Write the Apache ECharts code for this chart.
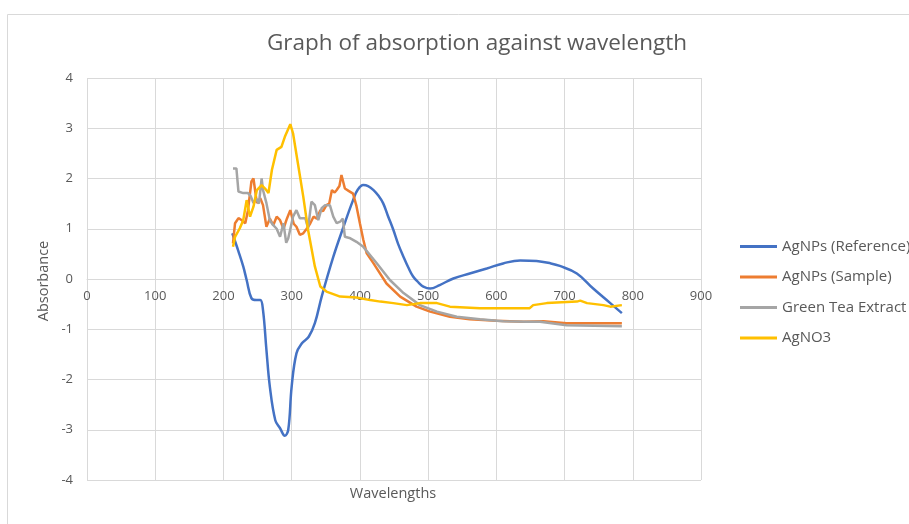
<!DOCTYPE html>
<html>
<head>
<meta charset="utf-8">
<script src="https://cdn.jsdelivr.net/npm/echarts@6/dist/echarts.min.js"></script>
<style>
  html, body { margin: 0; padding: 0; background: #fff; }
  #chart { width: 909px; height: 524px; }
</style>
</head>
<body>
<div id="chart"></div>
<script>
// wavelength / absorbance pairs
const refData = [
  [213, 0.91], [222, 0.55], [229, 0.25], [234, -0.02], [241, -0.38], [248, -0.42], [254, -0.42],
  [258, -0.62], [263, -1.41], [268, -2.14], [276, -2.81], [283, -2.97], [290, -3.12],
  [295, -3.0], [300, -2.14], [307, -1.48], [315, -1.28], [325, -1.15], [334, -0.88],
  [344, -0.35], [361, 0.44], [376, 1.04], [390, 1.57], [397, 1.78], [405, 1.87],
  [412, 1.85], [420, 1.77], [427, 1.66], [434, 1.51], [441, 1.26], [449, 0.98],
  [456, 0.7], [464, 0.44], [471, 0.23], [478, 0.05], [486, -0.07],
  [493, -0.15], [503, -0.19], [517, -0.12], [537, 0.01], [561, 0.11], [586, 0.21],
  [610, 0.31], [635, 0.37], [659, 0.36], [680, 0.31], [693, 0.26], [718, 0.11],
  [742, -0.19], [767, -0.48], [784, -0.68]
];
const sampleData = [
  [214, 0.71], [217, 1.11], [222, 1.21], [227, 1.17], [232, 1.11], [236, 1.37],
  [241, 1.94], [244, 2.0], [249, 1.51], [254, 1.61], [258, 1.47], [263, 1.04],
  [268, 1.2], [273, 1.07], [278, 1.24], [283, 1.17], [288, 1.0], [293, 1.2],
  [298, 1.37], [303, 1.1], [307, 1.04], [312, 0.88], [317, 0.91], [322, 1.0],
  [327, 1.1], [332, 1.24], [337, 1.2], [342, 1.37], [346, 1.35], [351, 1.47],
  [355, 1.5], [359, 1.77], [363, 1.72], [366, 1.77], [370, 1.85], [373, 2.07],
  [378, 1.8], [384, 1.75], [390, 1.7], [395, 1.45], [400, 1.11], [405, 0.78],
  [410, 0.51], [420, 0.31], [439, -0.09], [459, -0.35], [483, -0.55], [503, -0.65],
  [532, -0.75], [561, -0.8], [600, -0.83], [640, -0.85], [669, -0.84], [703, -0.88],
  [740, -0.88], [784, -0.88]
];
const teaData = [
  [214, 2.2], [219, 2.2], [222, 1.74], [229, 1.71], [236, 1.71], [240, 1.65],
  [244, 1.51], [248, 1.6], [252, 1.5], [256, 2.0], [258, 1.77], [263, 1.51],
  [268, 1.17], [273, 1.07], [278, 1.0], [283, 0.84], [288, 1.11], [292, 0.72],
  [295, 0.81], [302, 1.24], [307, 1.37], [312, 1.21], [320, 1.21], [324, 1.01],
  [329, 1.54], [334, 1.47], [339, 1.17], [344, 1.41], [349, 1.47], [356, 1.47],
  [361, 1.24], [366, 1.11], [371, 1.14], [375, 1.2], [378, 0.84], [386, 0.81],
  [395, 0.74], [405, 0.64], [425, 0.31], [444, -0.02], [464, -0.28], [488, -0.52],
  [513, -0.65], [542, -0.75], [576, -0.8], [610, -0.84], [645, -0.85], [664, -0.85],
  [703, -0.92], [784, -0.94]
];
const agno3Data = [
  [214, 0.64], [217, 0.84], [224, 1.01], [229, 1.17], [234, 1.57], [239, 1.24],
  [244, 1.44], [249, 1.77], [256, 1.87], [261, 1.8], [266, 1.71], [271, 2.17],
  [278, 2.57], [285, 2.63], [290, 2.83], [298, 3.08], [302, 2.9], [310, 2.23],
  [317, 1.64], [324, 0.98], [334, 0.25], [342, -0.15], [351, -0.25], [371, -0.35],
  [395, -0.37], [415, -0.42], [430, -0.45], [449, -0.48], [469, -0.52], [488, -0.48],
  [513, -0.48], [532, -0.55], [576, -0.58], [649, -0.58], [654, -0.52], [674, -0.48],
  [718, -0.45], [723, -0.43], [733, -0.48], [757, -0.52], [767, -0.55], [784, -0.52]
];
const seriesNames = ['AgNPs (Reference)', 'AgNPs (Sample)', 'Green Tea Extract', 'AgNO3'];
const seriesColors = ['#4472C4', '#ED7D31', '#A5A5A5', '#FFC000'];
const seriesData = [refData, sampleData, teaData, agno3Data];

const chart = echarts.init(document.getElementById('chart'));
const labelFont = { color: '#595959', fontFamily: 'Open Sans', fontSize: 13 };

chart.setOption({
  animation: false,
  title: {
    text: 'Graph of absorption against wavelength',
    left: 472,
    textAlign: 'center',
    top: 27,
    textStyle: { color: '#595959', fontFamily: 'Open Sans', fontSize: 22.5, fontWeight: 'normal' }
  },
  legend: {
    orient: 'vertical',
    left: 735,
    top: 234,
    icon: 'rect',
    itemWidth: 37,
    itemHeight: 3,
    itemGap: 15.5,
    textStyle: { color: '#595959', fontFamily: 'Open Sans', fontSize: 15, lineHeight: 15 },
    data: seriesNames
  },
  grid: { left: 87, right: 208, top: 78, bottom: 44 },
  xAxis: {
    type: 'value',
    min: 0,
    max: 900,
    interval: 100,
    offset: -201,
    axisLine: { onZero: false, lineStyle: { color: '#d9d9d9', width: 1 } },
    axisTick: { show: false },
    axisLabel: Object.assign({ margin: 11 }, labelFont),
    splitLine: { lineStyle: { color: '#d9d9d9' } }
  },
  yAxis: {
    type: 'value',
    min: -4,
    max: 4,
    interval: 1,
    axisLine: { show: false },
    axisTick: { show: false },
    axisLabel: Object.assign({ margin: 14 }, labelFont),
    splitLine: { lineStyle: { color: '#d9d9d9' } }
  },
  graphic: [
    { type: 'rect', left: 5, top: 12, shape: { width: 1000, height: 600 },
      style: { fill: 'none', stroke: '#d9d9d9', lineWidth: 1 }, silent: true },
    { type: 'text', x: 393, y: 494,
      style: { text: 'Wavelengths', fill: '#595959', font: '14.5px "Open Sans"',
        textAlign: 'center', textVerticalAlign: 'middle' } },
    { type: 'text', x: 44, y: 281, rotation: Math.PI / 2,
      style: { text: 'Absorbance', fill: '#595959', font: '14.5px "Open Sans"',
        textAlign: 'center', textVerticalAlign: 'middle' } }
  ],
  series: seriesNames.map((name, i) => ({
    name: name,
    type: 'line',
    data: seriesData[i],
    showSymbol: false,
    symbol: 'none',
    smooth: i === 0 ? 0.4 : false,
    lineStyle: { color: seriesColors[i], width: 2.5 },
    itemStyle: { color: seriesColors[i] }
  }))
});
</script>
</body>
</html>
